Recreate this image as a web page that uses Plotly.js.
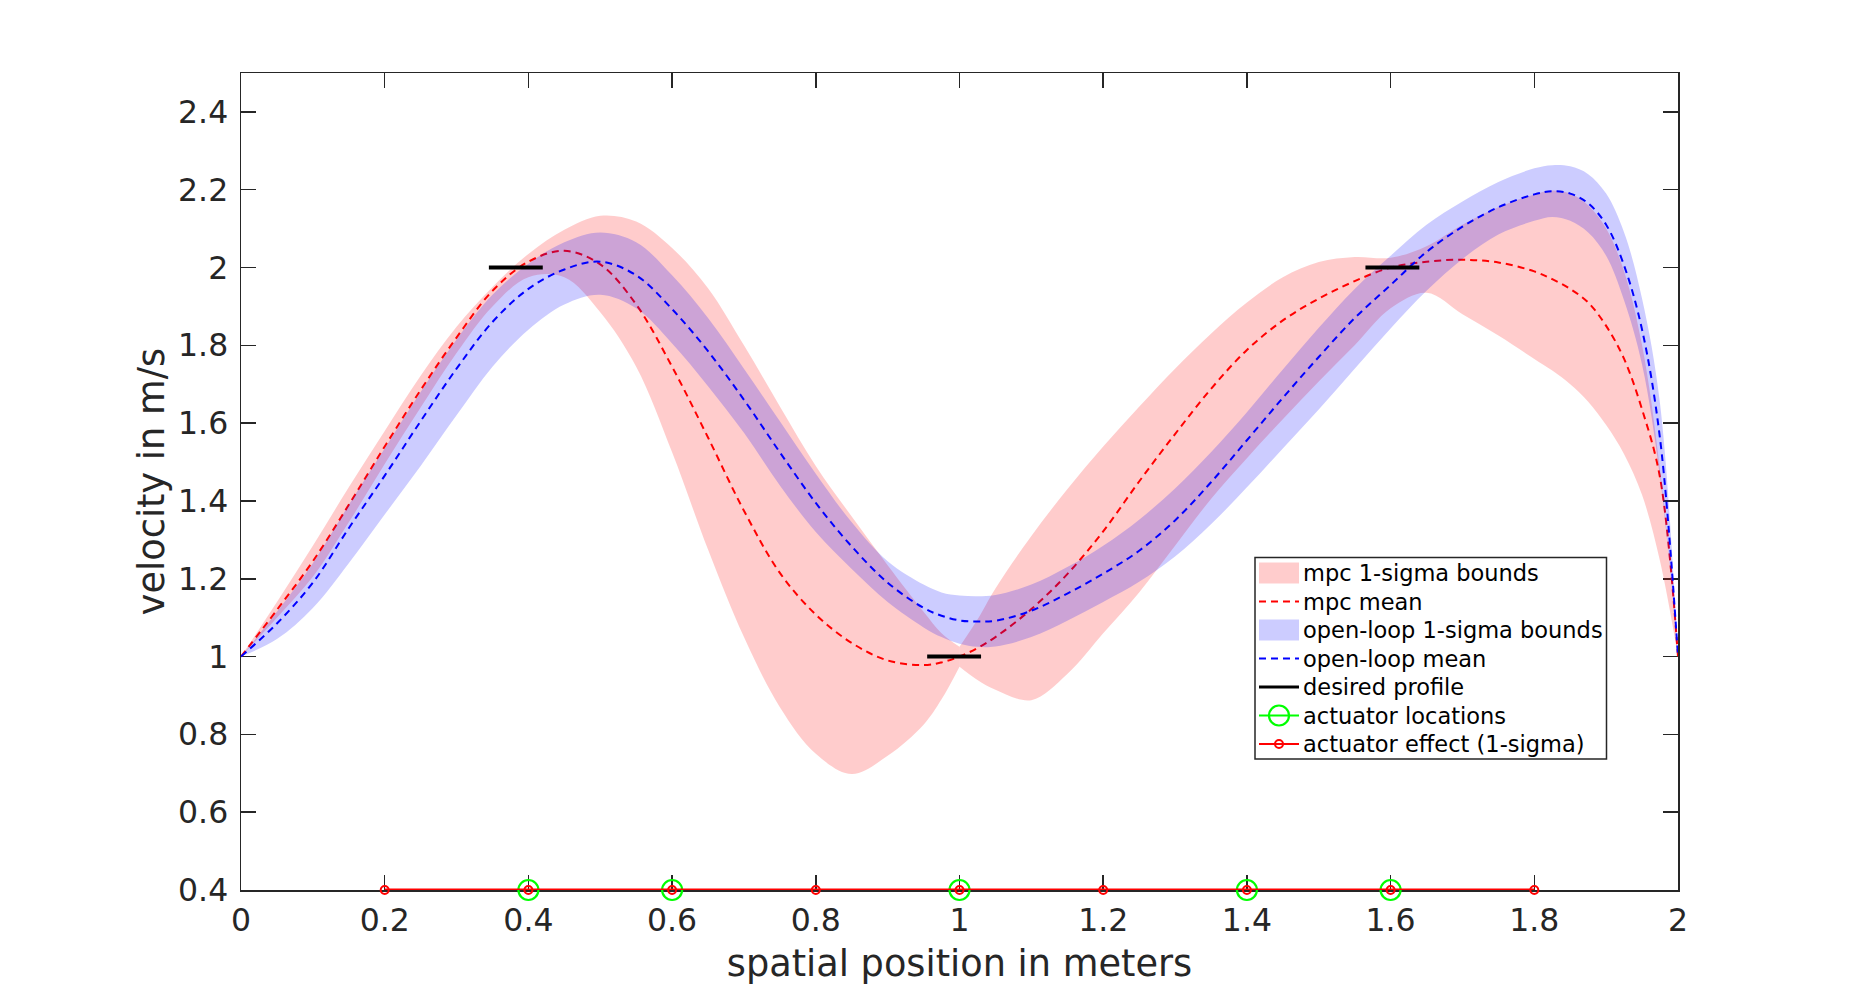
<!DOCTYPE html>
<html>
<head>
<meta charset="utf-8">
<script src="https://cdn.plot.ly/plotly-3.0.1.min.js"></script>
<style>
  html, body { margin: 0; padding: 0; background: #ffffff; }
  #chart { width: 1855px; height: 1001px; }
</style>
</head>
<body>
<div id="chart"></div>
<script>
// Spatial grid along the channel (m)
const position = [
  0, 0.05, 0.1, 0.15, 0.2, 0.25, 0.3, 0.35, 0.4, 0.45,
  0.5, 0.55, 0.6, 0.65, 0.7, 0.75, 0.8, 0.85, 0.9, 0.95,
  0.975, 1.0, 1.025, 1.05, 1.1, 1.15, 1.2, 1.25, 1.3, 1.35,
  1.4, 1.45, 1.5, 1.55, 1.6, 1.65, 1.7, 1.75, 1.8, 1.825,
  1.85, 1.875, 1.9, 1.925, 1.95, 1.975, 2.0
];

// MPC closed-loop velocity statistics (m/s)
const mpcMean = [
  1.0, 1.12, 1.245, 1.39, 1.54, 1.685, 1.82, 1.94, 2.015, 2.043,
  2.008, 1.905, 1.745, 1.563, 1.375, 1.215, 1.108, 1.035, 0.99, 0.978,
  0.985, 1.0, 1.022, 1.05, 1.122, 1.212, 1.322, 1.45, 1.572, 1.688,
  1.788, 1.864, 1.92, 1.965, 2.0, 2.015, 2.02, 2.013, 1.99, 1.97,
  1.945, 1.91, 1.85, 1.765, 1.635, 1.46, 1.0
];
const mpcUpper = [
  1.0, 1.14, 1.285, 1.435, 1.58, 1.722, 1.848, 1.95, 2.035, 2.097,
  2.133, 2.118, 2.05, 1.947, 1.8, 1.643, 1.49, 1.36, 1.235, 1.115,
  1.06, 1.025, 1.095, 1.175, 1.31, 1.43, 1.54, 1.642, 1.74, 1.83,
  1.91, 1.975, 2.014, 2.027, 2.025, 2.055, 2.11, 2.155, 2.188, 2.198,
  2.19, 2.16, 2.1, 1.99, 1.8, 1.48, 1.0
];
const mpcLower = [
  1.0, 1.1, 1.205, 1.345, 1.495, 1.64, 1.78, 1.9, 1.975, 1.975,
  1.885, 1.745, 1.525, 1.275, 1.05, 0.87, 0.75, 0.698, 0.745, 0.825,
  0.89, 0.974, 0.94, 0.915, 0.888, 0.955, 1.06, 1.165, 1.285, 1.405,
  1.51, 1.61, 1.707, 1.8, 1.895, 1.935, 1.88, 1.825, 1.765, 1.735,
  1.7, 1.655, 1.595, 1.52, 1.415, 1.245, 1.0
];

// Open-loop velocity statistics (m/s)
const olMean = [
  1.0, 1.085, 1.19, 1.33, 1.465, 1.605, 1.74, 1.86, 1.945, 1.995,
  2.015, 1.98, 1.893, 1.785, 1.66, 1.525, 1.395, 1.283, 1.19, 1.125,
  1.105, 1.093, 1.09, 1.092, 1.118, 1.162, 1.213, 1.272, 1.35, 1.448,
  1.556, 1.665, 1.77, 1.87, 1.955, 2.04, 2.105, 2.155, 2.188, 2.196,
  2.19, 2.165, 2.11, 2.005, 1.84, 1.56, 1.0
];
const olUpper = [
  1.0, 1.115, 1.24, 1.39, 1.535, 1.68, 1.815, 1.93, 2.01, 2.065,
  2.09, 2.065, 1.98, 1.87, 1.74, 1.605, 1.47, 1.345, 1.245, 1.185,
  1.165, 1.157, 1.155, 1.158, 1.185, 1.23, 1.285, 1.352, 1.432, 1.525,
  1.628, 1.738, 1.845, 1.945, 2.03, 2.11, 2.17, 2.22, 2.255, 2.263,
  2.26, 2.24, 2.19, 2.09, 1.92, 1.65, 1.0
];
const olLower = [
  1.0, 1.045, 1.125, 1.24, 1.365, 1.49, 1.62, 1.745, 1.84, 1.905,
  1.93, 1.895, 1.805, 1.695, 1.575, 1.44, 1.32, 1.225, 1.14, 1.075,
  1.05, 1.033, 1.025, 1.026, 1.05, 1.092, 1.14, 1.192, 1.257, 1.34,
  1.435, 1.535, 1.635, 1.74, 1.843, 1.94, 2.022, 2.085, 2.12, 2.13,
  2.12, 2.09, 2.03, 1.915, 1.75, 1.46, 1.0
];

// Desired velocity profile segments
const desiredStart = [0.345, 0.955, 1.565];
const desiredEnd = [0.42, 1.03, 1.64];
const desiredVelocity = [2, 1, 2];

// Actuators
const actuatorLocations = [0.4, 0.6, 1.0, 1.4, 1.6];
const actuatorLevel = [0.4, 0.4, 0.4, 0.4, 0.4];
const effectPositions = [0.2, 0.4, 0.6, 0.8, 1.0, 1.2, 1.4, 1.6, 1.8];
const effectValues = [0.4, 0.4, 0.4, 0.4, 0.4, 0.4, 0.4, 0.4, 0.4];

const seriesNames = [
  'mpc 1-sigma bounds', 'mpc mean', 'open-loop 1-sigma bounds',
  'open-loop mean', 'desired profile', 'actuator locations',
  'actuator effect (1-sigma)'
];

const FONT = 'DejaVu Sans, Verdana, sans-serif';
const AXIS_COLOR = '#262626';
const MPC_FILL = 'rgba(255,0,0,0.2)';
const OL_FILL = 'rgba(0,0,255,0.2)';
const DASH = '7px,5px';

// the MPC band pinches at the actuator at x = 1, so it is drawn in two pieces
const split = position.indexOf(1.0);
const leftPart = a => a.slice(0, split + 1);
const rightPart = a => a.slice(split);

function bandEdge(x, y, fill, color) {
  const t = {
    x: x, y: y, type: 'scatter', mode: 'lines',
    line: { width: 0, shape: 'spline', smoothing: 1 },
    showlegend: false, hoverinfo: 'skip'
  };
  if (fill) { t.fill = 'tonexty'; t.fillcolor = color; }
  return t;
}

const desiredX = [], desiredY = [];
desiredStart.forEach((s, i) => {
  desiredX.push(s, desiredEnd[i], null);
  desiredY.push(desiredVelocity[i], desiredVelocity[i], null);
});

const traces = [
  bandEdge(leftPart(position), leftPart(mpcLower), false),
  bandEdge(leftPart(position), leftPart(mpcUpper), true, MPC_FILL),
  bandEdge(rightPart(position), rightPart(mpcLower), false),
  bandEdge(rightPart(position), rightPart(mpcUpper), true, MPC_FILL),
  {
    x: position, y: mpcMean, type: 'scatter', mode: 'lines', name: seriesNames[1],
    line: { color: '#ff0000', width: 2, dash: DASH, shape: 'spline', smoothing: 1 },
    showlegend: false
  },
  bandEdge(position, olLower, false),
  bandEdge(position, olUpper, true, OL_FILL),
  {
    x: position, y: olMean, type: 'scatter', mode: 'lines', name: seriesNames[3],
    line: { color: '#0000ff', width: 2, dash: DASH, shape: 'spline', smoothing: 1 },
    showlegend: false
  },
  {
    x: desiredX, y: desiredY, type: 'scatter', mode: 'lines', name: seriesNames[4],
    line: { color: '#000000', width: 4 }, connectgaps: false, showlegend: false
  },
  {
    x: actuatorLocations, y: actuatorLevel, type: 'scatter', mode: 'lines+markers',
    name: seriesNames[5], cliponaxis: false,
    line: { color: '#00ff00', width: 2 },
    marker: { symbol: 'circle-open', size: 20, color: '#00ff00', line: { width: 2.2, color: '#00ff00' } },
    showlegend: false
  },
  {
    x: effectPositions, y: effectValues, type: 'scatter', mode: 'lines+markers',
    name: seriesNames[6], cliponaxis: false,
    line: { color: '#ff0000', width: 3 },
    marker: { symbol: 'circle-open', size: 8, color: '#ff0000', line: { width: 2, color: '#ff0000' } },
    showlegend: false
  }
];

// plot area in pixels, used to place the legend block
const L = 241, T = 73, W = 1437, H = 817;
const px = p => (p - L) / W;
const py = p => (T + H - p) / H;

const shapes = [];
const annotations = [];

// legend frame
shapes.push({
  type: 'rect', xref: 'paper', yref: 'paper', layer: 'above',
  x0: px(1255), x1: px(1606.5), y0: py(557.5), y1: py(759),
  line: { color: AXIS_COLOR, width: 1.5 }, fillcolor: '#ffffff'
});

const rowY = [573, 601.5, 630, 658.5, 687, 715.5, 744];
const symX0 = 1259, symX1 = 1299, symXc = 1279;

function legendLine(y, color, width, dash) {
  shapes.push({
    type: 'line', xref: 'paper', yref: 'paper', layer: 'above',
    x0: px(symX0), x1: px(symX1), y0: py(y), y1: py(y),
    line: { color: color, width: width, dash: dash || 'solid' }
  });
}
function legendBox(y, color) {
  shapes.push({
    type: 'rect', xref: 'paper', yref: 'paper', layer: 'above',
    x0: px(symX0), x1: px(symX1), y0: py(y - 10.5), y1: py(y + 10.5),
    line: { width: 0 }, fillcolor: color
  });
}
function legendCircle(y, d, color, width) {
  shapes.push({
    type: 'circle', xref: 'paper', yref: 'paper', layer: 'above',
    x0: px(symXc - d / 2), x1: px(symXc + d / 2), y0: py(y - d / 2), y1: py(y + d / 2),
    line: { color: color, width: width }, fillcolor: 'rgba(0,0,0,0)'
  });
}

legendBox(rowY[0], MPC_FILL);
legendLine(rowY[1], '#ff0000', 2, DASH);
legendBox(rowY[2], OL_FILL);
legendLine(rowY[3], '#0000ff', 2, DASH);
legendLine(rowY[4], '#000000', 3);
legendLine(rowY[5], '#00ff00', 2);
legendCircle(rowY[5], 20, '#00ff00', 2.2);
legendLine(rowY[6], '#ff0000', 2);
legendCircle(rowY[6], 8, '#ff0000', 2);

seriesNames.forEach((name, i) => {
  annotations.push({
    xref: 'paper', yref: 'paper', x: px(1301), y: py(rowY[i]),
    xanchor: 'left', yanchor: 'middle', showarrow: false,
    text: name, font: { family: FONT, size: 22.5, color: '#000000' }
  });
});

const axisCommon = {
  showgrid: false, zeroline: false,
  showline: true, linecolor: AXIS_COLOR, linewidth: 1.5, mirror: 'ticks',
  ticks: 'inside', ticklen: 15, tickwidth: 1.5, tickcolor: AXIS_COLOR,
  tickfont: { family: FONT, size: 31.5, color: AXIS_COLOR },
  layer: 'below traces', fixedrange: true
};

const layout = {
  width: 1855, height: 1001,
  margin: { l: L, r: 1855 - L - W, t: T, b: 1001 - T - H, pad: 0 },
  paper_bgcolor: '#ffffff', plot_bgcolor: '#ffffff',
  showlegend: false,
  xaxis: Object.assign({}, axisCommon, {
    range: [0, 2], tick0: 0, dtick: 0.2, ticklabelstandoff: 2,
    title: { text: 'spatial position in meters', font: { family: FONT, size: 36.7, color: AXIS_COLOR }, standoff: 13 }
  }),
  yaxis: Object.assign({}, axisCommon, {
    range: [0.4, 2.5], tick0: 0.4, dtick: 0.2, ticklabelstandoff: 5,
    title: { text: 'velocity in m/s', font: { family: FONT, size: 36.7, color: AXIS_COLOR }, standoff: 2 }
  }),
  shapes: shapes,
  annotations: annotations
};

Plotly.newPlot('chart', traces, layout, { staticPlot: true, displayModeBar: false });
</script>
</body>
</html>
